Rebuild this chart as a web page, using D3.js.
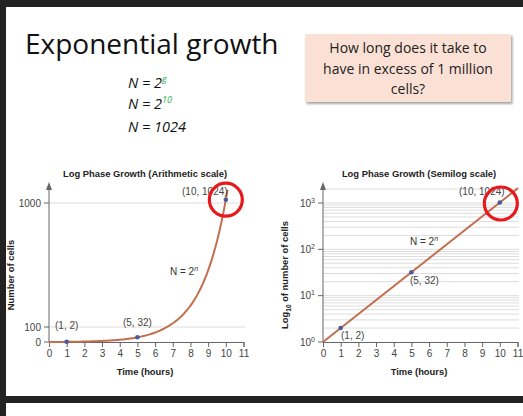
<!DOCTYPE html>
<html><head><meta charset="utf-8">
<script src="https://cdn.jsdelivr.net/npm/d3@7"></script>
<style>body{margin:0;background:#222}</style></head>
<body><script>
const hours = [0,1,2,3,4,5,6,7,8,9,10,11];
const curveHours = d3.range(0, 10.15, 0.1);   // sample times for N = 2^n drawn line
const labeledPoints = [{h:1,n:2,label:"(1, 2)"},{h:5,n:32,label:"(5, 32)"},{h:10,n:1024,label:"(10, 1024)"}];
const leftTicks = [0,100,1000];
const rightTicks = [1,10,100,1000];
const formulas = ["N = 2","N = 2","N = 1024"];
const formulaExp = ["g","10",""];

const W=523,H=416;
const svg=d3.select("body").append("svg").attr("width",W).attr("height",H).style("display","block");
svg.append("rect").attr("width",W).attr("height",H).attr("fill","#222");
svg.append("rect").attr("x",6).attr("y",7).attr("width",W-6).attr("height",389).attr("fill","#fff");
svg.append("rect").attr("x",6).attr("y",403).attr("width",W-6).attr("height",13).attr("fill","#fff");

const F="Liberation Sans, Arial, sans-serif";
svg.append("text").attr("x",25).attr("y",54).attr("font-family","Open Sans, sans-serif").attr("font-size",28).attr("fill","#111").text("Exponential growth");
const defs=svg.append("defs");
const flt=defs.append("filter").attr("id","sh").attr("x","-10%").attr("y","-10%").attr("width","130%").attr("height","140%");
flt.append("feDropShadow").attr("dx",1.5).attr("dy",2).attr("stdDeviation",1.2).attr("flood-color","#000").attr("flood-opacity",0.35);
svg.append("rect").attr("x",305).attr("y",34).attr("width",206).attr("height",68).attr("fill","#fbe1d5").attr("filter","url(#sh)");
["How long does it take to","have in excess of 1 million","cells?"].forEach((t,i)=>
  svg.append("text").attr("x",408).attr("y",53+i*20.5).attr("text-anchor","middle").attr("font-family","Open Sans, sans-serif").attr("font-size",14).attr("fill","#222").text(t));
formulas.forEach((f,i)=>{
  const t=svg.append("text").attr("x",128).attr("y",[88,109,132][i]).attr("font-family","Open Sans, sans-serif").attr("font-style","italic").attr("font-size",14.5).attr("fill","#111").text(f);
  if(formulaExp[i]) t.append("tspan").attr("dy",-6).attr("font-size",9).attr("fill","#2db34a").text(formulaExp[i]);
});

const brown="#c0704f", dot="#4a5a9a";
function chart(x0,yScale,gridVals,isLog,title,ylab,labelPos,nPos){
  const x=d3.scaleLinear().domain([0,11]).range([x0,x0+194.5]);
  const g=svg.append("g");
  g.selectAll(".gl").data(gridVals).join("line").attr("x1",x0).attr("x2",x0+196).attr("y1",d=>yScale(d)).attr("y2",d=>yScale(d)).attr("stroke","#ddd").attr("stroke-width",1);
  const ax=g.append("g").attr("transform",`translate(0,${yScale.range()[0]})`).call(d3.axisBottom(x).tickValues(hours).tickSize(5).tickPadding(3));
  ax.select(".domain").attr("stroke","#666");ax.selectAll("line").attr("stroke","#666");
  ax.selectAll("text").attr("font-family",F).attr("font-size",10).attr("fill","#444");
  g.append("line").attr("x1",x0).attr("x2",x0).attr("y1",yScale.range()[0]).attr("y2",186).attr("stroke","#666");
  g.append("path").attr("d",`M${x0-3},190L${x0},182L${x0+3},190Z`).attr("fill","#666");
  const yt=isLog?rightTicks:leftTicks;
  yt.forEach(v=>{
    g.append("line").attr("x1",x0-5).attr("x2",x0).attr("y1",yScale(v)).attr("y2",yScale(v)).attr("stroke","#666");
    const t=g.append("text").attr("x",x0-8).attr("y",yScale(v)+3.5).attr("text-anchor","end").attr("font-family",F).attr("font-size",10).attr("fill","#444");
    if(isLog){t.text("10");t.append("tspan").attr("dy",-4).attr("font-size",7).text(Math.round(Math.log10(v)));}
    else t.text(v);
  });
  const hs=isLog?[0,11.03]:curveHours;
  g.append("path").datum(hs).attr("fill","none").attr("stroke",brown).attr("stroke-width",2)
   .attr("d",d3.line().x(d=>x(d)).y(d=>yScale(Math.pow(2,d)-(isLog?0:1))));
  labeledPoints.forEach((p,i)=>{
    g.append("circle").attr("cx",x(p.h)).attr("cy",yScale(p.n)).attr("r",2.3).attr("fill",dot);
    g.append("text").attr("x",x(p.h)+labelPos[i][0]).attr("y",yScale(p.n)+labelPos[i][1]).attr("text-anchor","middle").attr("font-family",F).attr("font-size",10).attr("fill","#444").text(p.label);
  });
  const nt=g.append("text").attr("x",nPos[0]).attr("y",nPos[1]).attr("font-family",F).attr("font-size",10).attr("fill","#333").text("N = 2");
  nt.append("tspan").attr("dy",-4).attr("font-size",7).attr("font-style","italic").text("n");
  g.append("text").attr("x",x0+96).attr("y",177).attr("text-anchor","middle").attr("font-family",F).attr("font-weight","bold").attr("font-size",9.4).attr("fill","#222").text(title);
  g.append("text").attr("x",x0+96).attr("y",375).attr("text-anchor","middle").attr("font-family",F).attr("font-weight","bold").attr("font-size",9.4).attr("fill","#222").text("Time (hours)");
  const yl=g.append("text").attr("transform",`translate(${x0-35},275) rotate(-90)`).attr("text-anchor","middle").attr("font-family",F).attr("font-weight","bold").attr("font-size",9.4).attr("fill","#222");
  if(isLog){yl.text("Log");yl.append("tspan").attr("dy",3).attr("font-size",6.5).text("10");yl.append("tspan").attr("dy",-3).text(" of number of cells");}
  else yl.text(ylab);
  g.append("circle").attr("cx",x(10)+(isLog?1:0)).attr("cy",yScale(1024)+(isLog?1:0)).attr("r",16.5).attr("fill","none").attr("stroke","#e8191c").attr("stroke-width",3.2);
  return x;
}
const yL=d3.scaleLinear().domain([0,100,1000]).range([342,327,203]);
chart(49,yL,[100,1000],false,"Log Phase Growth (Arithmetic scale)","Number of cells",[[0,-13],[0,-11],[-21,-5]],[170,275]);
const yR=d3.scaleLog().domain([1,1000]).range([342,203]);
const minor=[];[1,10,100].forEach(b=>{for(let k=2;k<=10;k++)minor.push(b*k);});minor.push(2000);
chart(323,yR,minor,true,"Log Phase Growth (Semilog scale)","",[[12,11],[13,12],[-18,-8]],[410,245]);
</script></body></html>
